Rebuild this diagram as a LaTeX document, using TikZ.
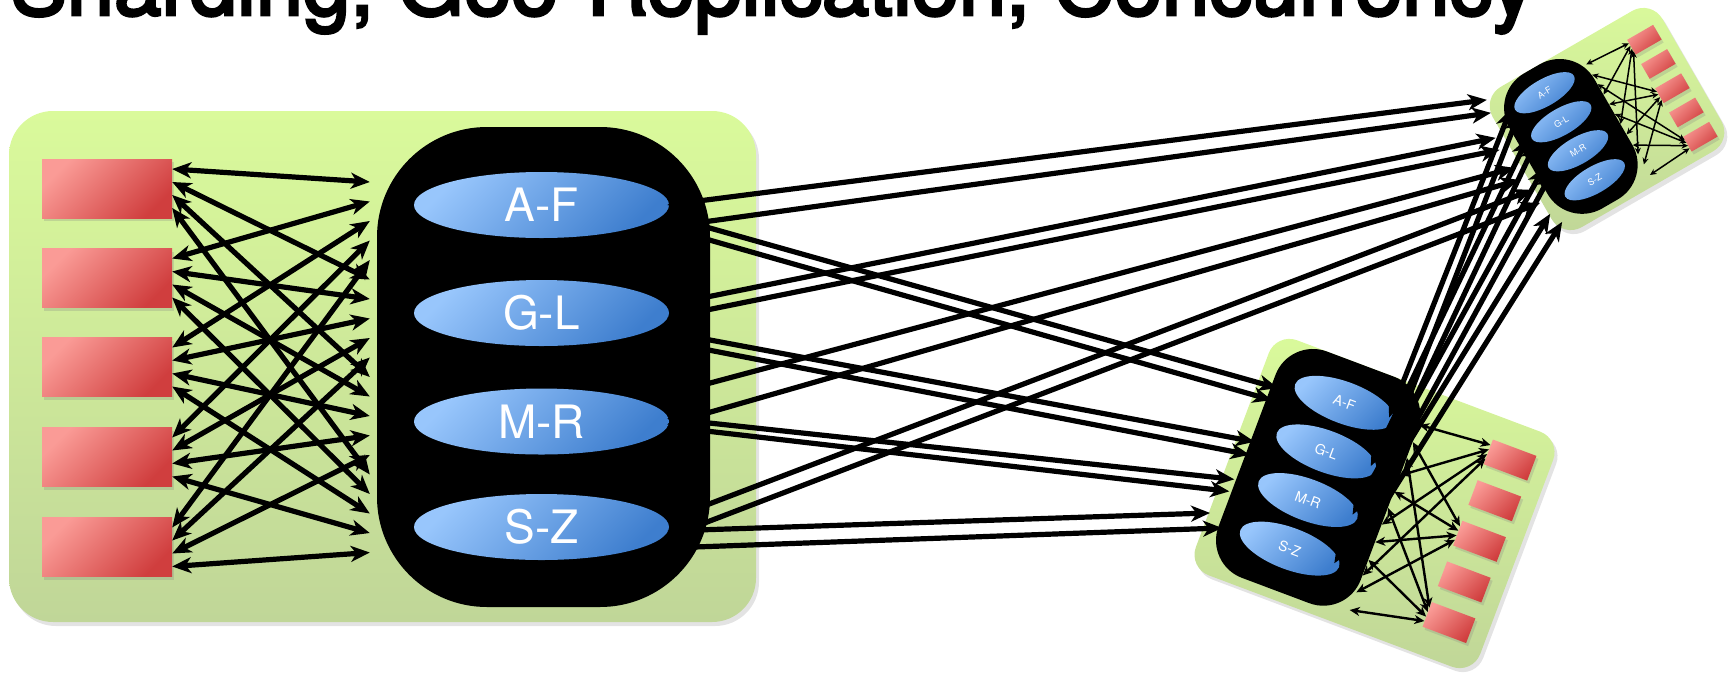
\documentclass[tikz,border=0pt]{standalone}
\usepackage{fontspec}
\setmainfont{TeX Gyre Heros}
\newfontfamily\titlefont[FakeBold=3.5]{TeX Gyre Heros}
\usetikzlibrary{arrows.meta,shadows,shapes.geometric,calc}
\definecolor{greenT}{RGB}{218,250,155}
\definecolor{greenB}{RGB}{192,214,152}
\definecolor{pinkL}{RGB}{250,155,150}
\definecolor{pinkD}{RGB}{208,62,62}
\definecolor{blueL}{RGB}{152,198,252}
\definecolor{blueD}{RGB}{62,126,206}
\tikzset{
  gbox/.style={rectangle, draw=none, inner sep=0pt, top color=greenT, bottom color=greenB,
    drop shadow={opacity=0.22, shadow xshift=3pt, shadow yshift=-4pt}},
  srv/.style={rectangle, draw=none, inner sep=0pt, top color=pinkL, bottom color=pinkD, shading angle=45,
    drop shadow={opacity=0.25, shadow xshift=2pt, shadow yshift=-3pt}},
  pillbox/.style={rectangle, fill=black, draw=none, inner sep=0pt},
  shard/.style={ellipse, draw=none, inner sep=0pt, top color=blueL, bottom color=blueD, shading angle=45, text=white},
  bigarr/.style={line width=5.2pt, >={Stealth[length=19pt,width=16pt,inset=5.5pt]}, <->},
  midarr/.style={line width=2.4pt, >={Stealth[length=10pt,width=9pt,inset=3pt]}, <->},
  tarr/.style={line width=1.5pt, >={Stealth[length=6.5pt,width=6pt,inset=2pt]}, <->},
}
% #1 prefix, #2 centre, #3 angle, #4 scale, #5 first server offset, #6 arrow style
\newcommand{\remotecl}[6]{%
  \begin{scope}[shift={#2}, rotate=#3, scale=#4, transform shape]
    \node[gbox, rounded corners=22pt, minimum width=196pt, minimum height=162pt] (#1box) at (0,0) {};
    \node[pillbox, rounded corners=40pt, minimum width=98pt, minimum height=156pt] (#1pill) at (-40,-3) {};
    \foreach \nm/\lbl/\vv in {A/A-F/-54,G/G-L/-20.5,M/M-R/13,S/S-Z/46.5}
      \node[shard, minimum width=68pt, minimum height=27pt, font=\fontsize{9}{9}\selectfont] (#1\nm) at (-41,\vv) {\lbl};
    \foreach \kk in {1,...,5}
      \node[srv, minimum width=30pt, minimum height=17pt] (#1r\kk) at (72,{#5+28*(\kk-1)}) {};
    \foreach \kk/\qq in {1/0,3/1,5/2}
      \foreach \jj/\ra in {1/163,2/174,3/186,4/197}{
        \pgfmathtruncatemacro\pa{mod(atan((55-11.5*(3*(\jj-1)+\qq))/49)+360,360)}
        \draw[#6] (#1r\kk.\ra) -- (#1pill.\pa);
      }
  \end{scope}}
\begin{document}
\begin{tikzpicture}[x=1pt,y=-1pt]
\useasboundingbox (0,0) rectangle (1736,686);
\clip (0,0) rectangle (1736,686);
% title
\node[anchor=base west, inner sep=0pt, font=\titlefont\fontsize{85}{90}\selectfont] (title) at (10,15) {Sharding, Geo-Replication, Concurrency};
% main cluster
\node[gbox, rounded corners=44pt, minimum width=747pt, minimum height=511pt] (bbox) at (382.5,366.5) {};
\foreach \ii/\yy in {1/188.5,2/278,3/367,4/457,5/547}
  \node[srv, minimum width=130pt, minimum height=59pt] (br\ii) at (107,\yy) {};
\node[pillbox, rounded corners=110pt, minimum width=333pt, minimum height=480pt] (bpill) at (543.5,367) {};
\foreach \nm/\lbl/\yy in {A/A-F/205,G/G-L/313,M/M-R/421.5,S/S-Z/527}
  \node[shard, minimum width=255pt, minimum height=66pt, font=\fontsize{46}{46}\selectfont] (b\nm) at (541.5,\yy) {\lbl};
% remote clusters
\remotecl{m}{(1374.5,503.5)}{-20.6}{1.55}{-57}{midarr}
\remotecl{t}{(1607,119)}{30}{1}{-50}{tarr}
% main cluster client links
\foreach \ii in {1,...,5}
  \foreach \jj in {1,...,4}
    \draw[bigarr] ($(br\ii.east)+(0,{(\jj-2.5)*13})$) -- ($(bpill.west)+(-7,{-185+((\jj-1)*5+(\ii-1))*19.5})$);
% main <-> top-right
\draw[bigarr] ($(bA.east)+(-2,0)$) -- ($(tA.west)+(-28,-10)$);
\draw[bigarr] ($(bA.east)+(-2,22)$) -- ($(tA.west)+(-24,3)$);
\draw[bigarr] ($(bG.east)+(-2,-8)$) -- ($(tG.west)+(-36,-1)$);
\draw[bigarr] ($(bG.east)+(-2,5)$) -- ($(tG.west)+(-32,11)$);
\draw[bigarr] ($(bM.east)+(-2,-27)$) -- ($(tM.west)+(-34,0)$);
\draw[bigarr] ($(bM.east)+(-2,3)$) -- ($(tM.west)+(-29,12)$);
\draw[bigarr] ($(bS.east)+(-2,-7)$) -- ($(tS.west)+(-33,-7)$);
\draw[bigarr] ($(bS.east)+(-9,13)$) -- ($(tS.west)+(-25,6)$);
% main <-> middle
\draw[bigarr] ($(bA.east)+(-2,11)$) -- ($(mA.west)+(-17,4)$);
\draw[bigarr] ($(bA.east)+(-2,23)$) -- ($(mA.west)+(-23,16)$);
\draw[bigarr] ($(bG.east)+(-2,19)$) -- ($(mG.west)+(-22,9)$);
\draw[bigarr] ($(bG.east)+(-2,29)$) -- ($(mG.west)+(-27,22)$);
\draw[bigarr] ($(bM.east)+(-2,-3)$) -- ($(mM.west)+(-24,-2)$);
\draw[bigarr] ($(bM.east)+(-2,5)$) -- ($(mM.west)+(-29,10)$);
\draw[bigarr] ($(bS.east)+(-2,4)$) -- ($(mS.west)+(-30,-17)$);
\draw[bigarr] ($(bS.east)+(-2,21)$) -- ($(mS.west)+(-18,-2)$);
% middle <-> top-right
\foreach \nm in {A,G,M}{
  \draw[bigarr] ($(m\nm.east)+(-5,-4)$) -- ($(t\nm.west)+(-4,-1)$);
  \draw[bigarr] ($(m\nm.east)+(5,1)$) -- ($(t\nm.west)+(4,4)$);
}
\draw[bigarr] ($(mS.east)+(-5,-4)$) -- ($(tS.west)+(-15,17)$);
\draw[bigarr] ($(mS.east)+(5,1)$) -- ($(tS.west)+(-3,25)$);
\end{tikzpicture}
\end{document}
